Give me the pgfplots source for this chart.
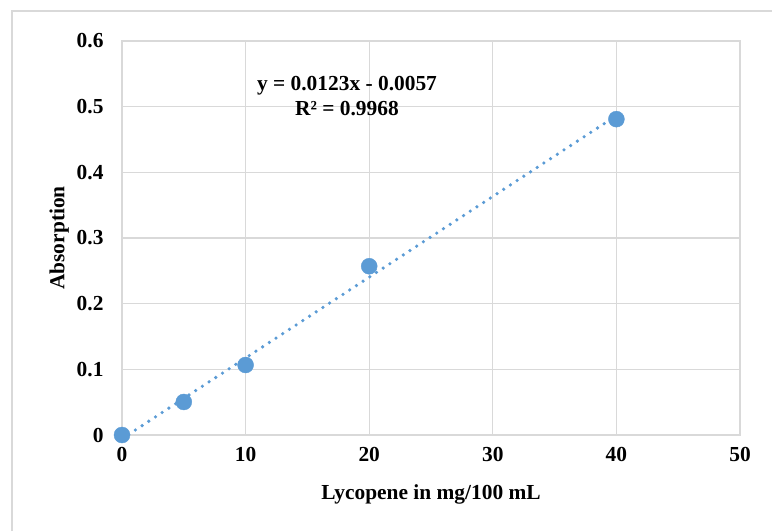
\documentclass[border=0pt]{standalone}
\usepackage{fontspec}
\setmainfont{Liberation Serif}
\usepackage{pgfplots}
\pgfplotsset{compat=1.18}
\definecolor{ser}{HTML}{5B9BD5}
\definecolor{grd}{HTML}{D9D9D9}
\definecolor{axl}{HTML}{BFBFBF}
\begin{document}
\begin{tikzpicture}[x=1pt,y=1pt]
\useasboundingbox (0,0) rectangle (772,531);
\draw[grd, line width=1.2pt] (12,0) -- (12,520) -- (772,520);
\begin{axis}[
  at={(122pt,96pt)}, anchor=south west,
  scale only axis, width=618pt, height=394pt,
  xmin=0, xmax=50, ymin=0, ymax=0.6,
  xtick={0,10,20,30,40,50},
  ytick={0,0.1,0.2,0.3,0.4,0.5,0.6},
  yticklabels={0,0.1,0.2,0.3,0.4,0.5,0.6},
  xticklabels={0,10,20,30,40,50},
  grid=major,
  major grid style={grd, line width=1.2pt},
  axis line style={grd, line width=1.2pt},
  tick style={draw=none},
  ticklabel style={font=\fontsize{21.4}{24}\selectfont\bfseries},
  xticklabel style={yshift=-9pt},
  yticklabel style={xshift=-15pt},
  xlabel={Lycopene in mg/100 mL},
  ylabel={Absorption},
  xlabel style={font=\fontsize{21.4}{24}\selectfont\bfseries, yshift=-16pt},
  ylabel style={font=\fontsize{21.4}{24}\selectfont\bfseries, yshift=1pt},
  clip=true,
]
\addplot[ser, line width=3.6pt, line cap=round, dash pattern=on 0pt off 8pt]
  coordinates {(0,-0.0057) (40,0.4863)};
\addplot[only marks, mark=*, mark size=8pt, mark options={fill=ser, draw=ser}]
  coordinates {(0,0) (5,0.0503) (10,0.1066) (20,0.257) (40,0.481)};
\end{axis}
\node[font=\fontsize{21.4}{25}\selectfont\bfseries, align=center] at (347,435)
  {y = 0.0123x - 0.0057\\R² = 0.9968};
\end{tikzpicture}
\end{document}
